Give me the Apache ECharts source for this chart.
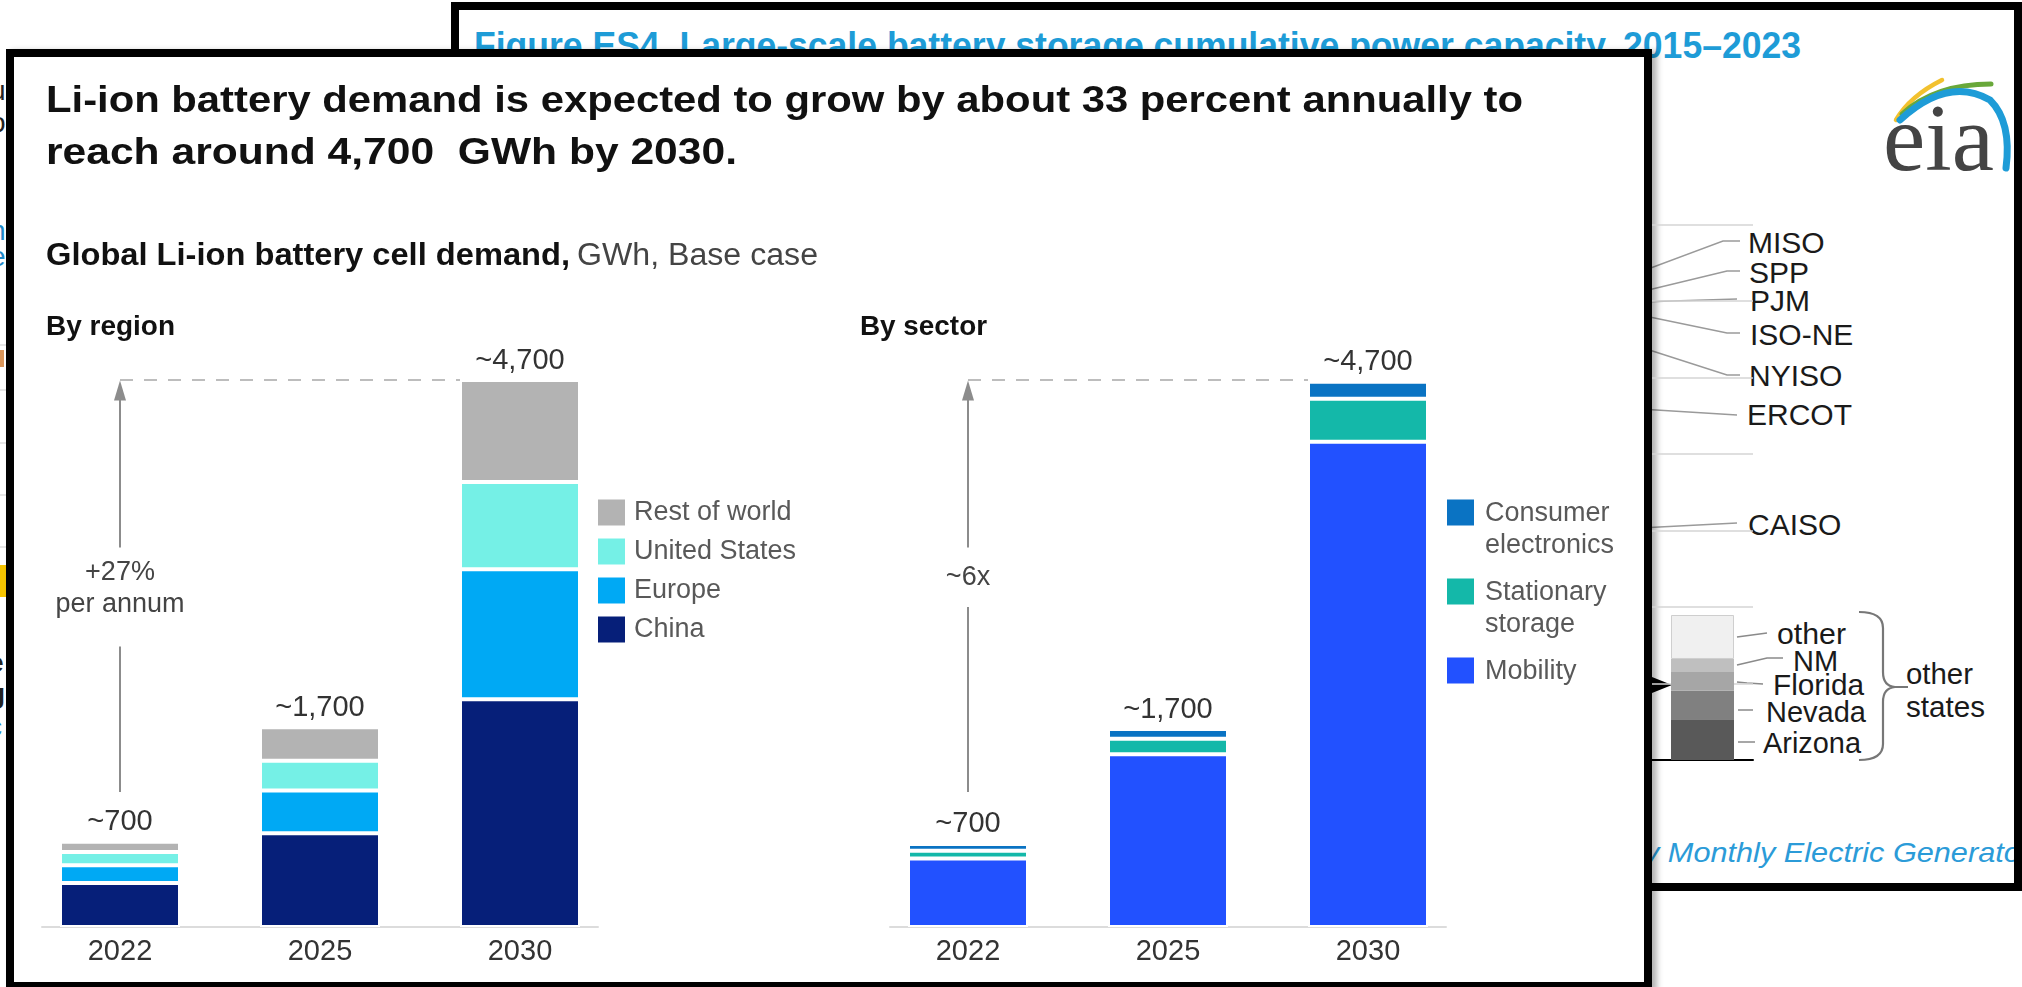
<!DOCTYPE html>
<html>
<head>
<meta charset="utf-8">
<title>Global Li-ion battery cell demand</title>
<script src="https://cdn.jsdelivr.net/npm/echarts@6/dist/echarts.min.js"></script>
<style>
  html, body { margin: 0; padding: 0; background: #fff; }
  body { width: 2022px; height: 987px; position: relative; overflow: hidden; font-family: "Liberation Sans", Arial, sans-serif; }
  svg.layer { position: absolute; left: 0; top: 0; }
  #back { z-index: 0; }
  #front { position: absolute; left: 6px; top: 49px; width: 1646px; height: 941px; box-sizing: border-box;
           border: 8px solid #000; background: #fff; box-shadow: 5px 2px 6px rgba(0,0,0,0.3); z-index: 1; }
  #chart { position: absolute; left: 0; top: 0; width: 2022px; height: 987px; z-index: 2; }
  #heads { z-index: 3; pointer-events: none; }
</style>
</head>
<body>

<!-- background: the EIA figure peeking out behind the main chart -->
<svg id="back" class="layer" width="2022" height="987" font-family="Liberation Sans, Arial, sans-serif">
  <g>
    <line x1="0" y1="345" x2="6" y2="345" stroke="#ddd" stroke-width="1.5"/>
    <line x1="0" y1="390" x2="6" y2="390" stroke="#ddd" stroke-width="1.5"/>
    <line x1="0" y1="443" x2="6" y2="443" stroke="#ddd" stroke-width="1.5"/>
    <line x1="0" y1="495" x2="6" y2="495" stroke="#ddd" stroke-width="1.5"/>
    <line x1="0" y1="547" x2="6" y2="547" stroke="#ddd" stroke-width="1.5"/>
    <rect x="0" y="350" width="4" height="17" fill="#d9955a"/>
    <rect x="0" y="565" width="6" height="32" fill="#f5c400"/>
    <text x="-10" y="100" font-size="28" fill="#222">u</text>
    <text x="-10" y="132" font-size="28" fill="#222">o</text>
    <text x="-10" y="240" font-size="28" fill="#1e88c7">n</text>
    <text x="-10" y="266" font-size="28" fill="#1e88c7">e</text>
    <text x="-12" y="672" font-size="28" font-weight="bold" fill="#222">e</text>
    <text x="-12" y="703" font-size="28" font-weight="bold" fill="#222">g</text>
    <text x="-12" y="736" font-size="28" fill="#1e88c7">c</text>
  </g>

  <rect x="455" y="6" width="1563" height="881" fill="#fff"/>
  <text x="474" y="58" font-size="36" font-weight="bold" fill="#1e9cd7" textLength="1327" lengthAdjust="spacingAndGlyphs">Figure ES4. Large-scale battery storage cumulative power capacity, 2015–2023</text>

  <!-- eia logo -->
  <path d="M1896,120 Q1910,96 1942,80" fill="none" stroke="#f2c12e" stroke-width="4.5" stroke-linecap="round"/>
  <path d="M1902,114 Q1935,84 1991,84" fill="none" stroke="#69a83a" stroke-width="5" stroke-linecap="round"/>
  <path d="M1900,120 Q1948,76 1990,100 Q2012,122 2006,168" fill="none" stroke="#1e9cd7" stroke-width="7" stroke-linecap="round"/>
  <text x="1883" y="170" font-family="Liberation Serif, serif" font-size="95" fill="#444" textLength="111" lengthAdjust="spacingAndGlyphs">eia</text>

  <!-- leader lines to the hidden column -->
  <g fill="none" stroke="#9a9a9a" stroke-width="1.5">
    <path d="M1640,272 L1723,241 L1740,241"/>
    <path d="M1640,292 L1727,271 L1740,271"/>
    <path d="M1640,302 L1737,299"/>
    <path d="M1640,315 L1727,333 L1740,333"/>
    <path d="M1640,347 L1727,375 L1740,375"/>
    <path d="M1640,409 L1737,415"/>
    <path d="M1640,528 L1737,523"/>
  </g>
  <g font-size="30" fill="#1a1a1a">
    <text x="1748" y="253">MISO</text>
    <text x="1749" y="283">SPP</text>
    <text x="1750" y="311">PJM</text>
    <text x="1750" y="345">ISO-NE</text>
    <text x="1749" y="386">NYISO</text>
    <text x="1747" y="425">ERCOT</text>
    <text x="1748" y="535">CAISO</text>
  </g>

  <!-- other states key -->
  <path d="M1645,677 L1652,677 L1672,685 L1652,693 L1645,693 Z" fill="#000"/>
  <g fill="none" stroke="#8a8a8a" stroke-width="1.5">
    <path d="M1737,637 L1767,633"/>
    <path d="M1737,665 L1767,658 L1783,658"/>
    <path d="M1737,682 L1747,683 L1763,684"/>
    <path d="M1738,710 L1753,710"/>
    <path d="M1738,742 L1755,742"/>
  </g>
  <path d="M1859,612 Q1883,612 1883,628 L1883,672 Q1883,686 1895,687 L1908,687 M1895,687 Q1883,688 1883,702 L1883,744 Q1883,760 1859,760"
        fill="none" stroke="#777" stroke-width="2.2"/>
  <g font-size="29" fill="#1a1a1a">
    <text x="1777" y="644" textLength="69" lengthAdjust="spacingAndGlyphs">other</text>
    <text x="1793" y="671">NM</text>
    <text x="1773" y="695" textLength="91" lengthAdjust="spacingAndGlyphs">Florida</text>
    <text x="1766" y="722" textLength="100" lengthAdjust="spacingAndGlyphs">Nevada</text>
    <text x="1763" y="753" textLength="98" lengthAdjust="spacingAndGlyphs">Arizona</text>
    <text x="1906" y="684" textLength="67" lengthAdjust="spacingAndGlyphs">other</text>
    <text x="1906" y="717" textLength="79" lengthAdjust="spacingAndGlyphs">states</text>
  </g>
  <text x="1644" y="862" font-size="28" font-style="italic" fill="#2b9bd8" textLength="387" lengthAdjust="spacingAndGlyphs">y Monthly Electric Generator</text>

  <rect x="455" y="6" width="1563" height="881" fill="none" stroke="#000" stroke-width="8"/>
</svg>

<div id="front"></div>
<div id="chart"></div>

<svg id="heads" class="layer" width="2022" height="987" font-family="Liberation Sans, Arial, sans-serif">
  <text x="46" y="112" font-size="37" font-weight="bold" fill="#111" textLength="1477" lengthAdjust="spacingAndGlyphs">Li-ion battery demand is expected to grow by about 33 percent annually to</text>
  <text x="46" y="164" font-size="37" font-weight="bold" fill="#111" textLength="691" lengthAdjust="spacingAndGlyphs" style="white-space:pre">reach around 4,700  GWh by 2030.</text>
  <text y="265" font-size="31" fill="#111">
    <tspan x="46" font-weight="bold" textLength="524" lengthAdjust="spacingAndGlyphs">Global Li-ion battery cell demand,</tspan>
    <tspan x="577" fill="#444" textLength="241" lengthAdjust="spacingAndGlyphs">GWh, Base case</tspan>
  </text>
  <text x="46" y="335" font-size="28" font-weight="bold" fill="#111" textLength="129" lengthAdjust="spacingAndGlyphs">By region</text>
  <text x="860" y="335" font-size="28" font-weight="bold" fill="#111" textLength="127" lengthAdjust="spacingAndGlyphs">By sector</text>
</svg>

<script>
// ---------- data (GWh) ----------
const years = ['2022', '2025', '2030'];
const yearPos = [0, 1, 2];
const totalLabels = ['~700', '~1,700', '~4,700'];
const peakValue = 4700;

// by region, bottom to top
const china = [379, 805, 1957];
const europe = [151, 368, 1117];
const unitedStates = [115, 256, 749];
const restOfWorld = [88, 287, 876];

// by sector, bottom to top
const mobility = [589, 1485, 4170];
const stationary = [67, 133, 369];
const consumer = [58, 83, 146];

// growth arrows: line stops and note position, in GWh
const regionArrowStops = [1160, 2410, 3260, 4610];
const sectorArrowStops = [1160, 2750, 3260, 4610];
const regionNote = '+27%\nper annum';
const sectorNote = '~6x';
const regionNoteAt = 2905;
const sectorNoteAt = 3000;

// EIA inset column (MW), "other states"
const eiaCategory = ['2023'];
const eiaStates = ['Arizona', 'Nevada', 'Florida', 'NM', 'other'];
const eiaValues = [1064, 748, 489, 340, 1150];
const eiaColors = ['#595959', '#808080', '#a6a6a6', '#bfbfbf', '#f0f0f0'];

const FONT = '"Liberation Sans", Arial, sans-serif';
const ink = '#333';
const legendInk = '#595959';

const colors = {
  china: '#061f79', europe: '#00a9f4', us: '#75f0e6', rest: '#b3b3b3',
  mobility: '#2251ff', stationary: '#14b8a9', consumer: '#0a73c3',
};

const legendLines = {
  'Consumer electronics': 'Consumer\nelectronics',
  'Stationary storage': 'Stationary\nstorage',
  'Mobility': 'Mobility\n ',
};

function yearAxis(gridIndex) {
  return {
    type: 'value', gridIndex, min: -0.39, max: 2.39,
    axisLine: { show: true, onZero: false, lineStyle: { color: '#dcdcdc', width: 2 } },
    axisTick: { show: false },
    splitLine: { show: false },
    axisLabel: {
      customValues: yearPos,
      formatter: (v) => years[Math.round(v)],
      fontSize: 29, color: ink, margin: 10, fontFamily: FONT,
    },
  };
}

function valueAxis(gridIndex) {
  return { type: 'value', gridIndex, min: 0, max: peakValue, show: false };
}

// value first so the stack runs on y; x (year slot) second
function bars(name, values, color, idx, stack, extra) {
  return Object.assign({
    type: 'bar', name, stack, xAxisIndex: idx, yAxisIndex: idx,
    barWidth: 120, silent: true,
    encode: { x: 1, y: 0 },
    data: values.map((v, i) => [v, yearPos[i]]),
    itemStyle: { color, borderColor: '#fff', borderWidth: 2 },
  }, extra || {});
}

function totalLabel() {
  return {
    show: true, position: 'top', distance: 5,
    formatter: (p) => totalLabels[p.dataIndex],
    fontSize: 29, color: ink, fontFamily: FONT,
  };
}

function growthMarks(stops, note, noteAt) {
  const grey = { color: '#8c8c8c', width: 2, type: 'solid' };
  return {
    markLine: {
      silent: true, symbol: 'none', animation: false,
      label: { show: false },
      lineStyle: grey,
      data: [
        [{ coord: [0, peakValue], lineStyle: { color: '#a8a8a8', width: 1.5, type: [13, 11] } },
         { coord: [1.7, peakValue] }],
        [{ coord: [0, stops[0]] }, { coord: [0, stops[1]] }],
        [{ coord: [0, stops[2]], symbol: 'none' },
         { coord: [0, stops[3]], symbol: 'triangle', symbolSize: [12, 20] }],
      ],
    },
    markPoint: {
      silent: true, symbol: 'rect', symbolSize: 1, animation: false,
      itemStyle: { color: 'rgba(0,0,0,0)' },
      label: {
        show: true, position: 'inside', formatter: () => note,
        fontSize: 27, lineHeight: 32, color: '#444', fontFamily: FONT,
      },
      data: [{ coord: [0, noteAt] }],
    },
  };
}

const chart = echarts.init(document.getElementById('chart'), null, { renderer: 'canvas' });

chart.setOption({
  animation: false,
  backgroundColor: 'rgba(0,0,0,0)',
  textStyle: { fontFamily: FONT },
  grid: [
    { left: 42, width: 556, top: 380, bottom: 60, outerBoundsMode: 'none' },
    { left: 890, width: 556, top: 380, bottom: 60, outerBoundsMode: 'none' },
    { left: 1652, width: 101, top: 224.5, bottom: 227, outerBoundsMode: 'none' },
  ],
  xAxis: [
    yearAxis(0),
    yearAxis(1),
    {
      type: 'category', gridIndex: 2, data: eiaCategory,
      axisLine: { lineStyle: { color: '#000', width: 2 } },
      axisTick: { show: false }, axisLabel: { show: false },
    },
  ],
  yAxis: [
    valueAxis(0),
    valueAxis(1),
    {
      type: 'value', gridIndex: 2, min: 0, max: 14000, interval: 2000,
      axisLine: { show: false }, axisTick: { show: false }, axisLabel: { show: false },
      splitLine: { lineStyle: { color: '#d4d4d4', width: 1.5 } },
    },
  ],
  legend: [
    {
      data: ['Rest of world', 'United States', 'Europe', 'China'],
      orient: 'vertical', left: 598, top: 499, padding: 0,
      itemWidth: 27, itemHeight: 26, itemGap: 12, icon: 'rect',
      selectedMode: false,
      itemStyle: { borderWidth: 0 },
      textStyle: { fontSize: 27, lineHeight: 27, color: legendInk, fontFamily: FONT, padding: [0, 0, 0, 4] },
    },
    {
      data: ['Consumer electronics', 'Stationary storage', 'Mobility'],
      orient: 'vertical', left: 1447, top: 497, padding: 0,
      itemWidth: 27, itemHeight: 60, itemGap: 14,
      icon: 'path://M0,0H27V26H0Z M0,59.9H0.1V60H0Z',
      selectedMode: false,
      itemStyle: { borderWidth: 0 },
      formatter: (name) => legendLines[name],
      textStyle: { fontSize: 27, lineHeight: 32.5, color: legendInk, fontFamily: FONT, padding: [0, 0, 0, 6] },
    },
  ],
  series: [
    bars('China', china, colors.china, 0, 'region'),
    bars('Europe', europe, colors.europe, 0, 'region'),
    bars('United States', unitedStates, colors.us, 0, 'region'),
    bars('Rest of world', restOfWorld, colors.rest, 0, 'region',
      Object.assign({ label: totalLabel() }, growthMarks(regionArrowStops, regionNote, regionNoteAt))),

    bars('Mobility', mobility, colors.mobility, 1, 'sector'),
    bars('Stationary storage', stationary, colors.stationary, 1, 'sector'),
    bars('Consumer electronics', consumer, colors.consumer, 1, 'sector',
      Object.assign({ label: totalLabel() }, growthMarks(sectorArrowStops, sectorNote, sectorNoteAt))),

    ...eiaStates.map((name, i) => ({
      type: 'bar', name, stack: 'eia', xAxisIndex: 2, yAxisIndex: 2,
      barWidth: 63, silent: true, data: [eiaValues[i]],
      itemStyle: name === 'other'
        ? { color: eiaColors[i], borderColor: '#cfcfcf', borderWidth: 1 }
        : { color: eiaColors[i] },
    })),
  ],
});
</script>
</body>
</html>
